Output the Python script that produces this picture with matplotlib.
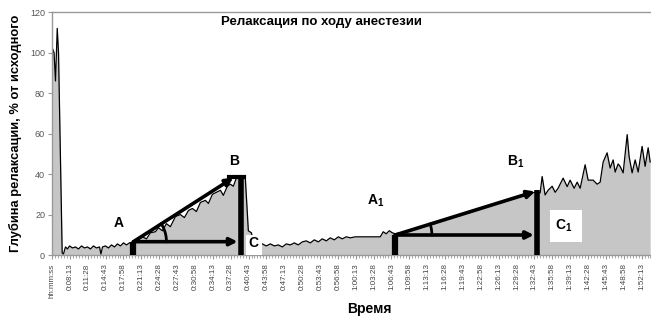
import numpy as np
import matplotlib
matplotlib.use('Agg')
import matplotlib.pyplot as plt
from matplotlib.patches import Rectangle

plt.rcParams['font.family'] = ['Liberation Sans', 'DejaVu Sans']
plt.rcParams['mathtext.default'] = 'regular'

# %%
# data: time in seconds, relaxation depth in % of baseline

t_sec = [303, 320, 336, 355, 369, 409, 423, 445, 467, 489, 522, 554, 587, 620, 652, 685,
         718, 750, 783, 816, 832, 849, 881, 914, 947, 980, 1012, 1045, 1078, 1111, 1143, 1187,
         1241, 1285, 1329, 1372, 1427, 1460, 1503, 1547, 1590, 1645, 1699, 1743, 1787, 1830,
         1874, 1918, 1972, 2005, 2049, 2092, 2136, 2168, 2212, 2245, 2277, 2310, 2354, 2408,
         2441, 2474, 2506, 2594, 2637, 2681, 2725, 2768, 2812, 2855, 2899, 2943, 2986, 3030,
         3074, 3117, 3161, 3205, 3248, 3292, 3335, 3379, 3423, 3466, 3510, 3554, 3608, 3663,
         3717, 3772, 3826, 3881, 3913, 3946, 3979, 4012, 4044, 4099, 4153, 4208, 4262, 4317,
         4371, 4426, 4480, 4535, 4589, 4644, 4699, 4753, 4808, 4862, 4917, 4971, 5026, 5080,
         5135, 5189, 5244, 5298, 5353, 5407, 5462, 5516, 5571, 5626, 5648, 5680, 5713, 5757,
         5790, 5822, 5877, 5921, 5953, 5997, 6030, 6063, 6117, 6150, 6205, 6248, 6281, 6314,
         6357, 6390, 6423, 6445, 6477, 6499, 6532, 6576, 6597, 6630, 6663, 6696, 6739, 6772,
         6805, 6827]
depth = [102, 100, 86, 112, 100, 1, 0.5, 4, 3, 4.5, 3.5, 4, 3, 4.5, 3.5, 4,
         3, 4.5, 3.5, 4, 0.5, 4, 4.5, 3.5, 5, 4, 5.5, 4.5, 6, 5, 6, 6.5,
         7.5, 9, 8, 11, 11.5, 13.5, 12, 15.5, 14, 19, 20, 18.5, 22, 23,
         21.5, 26, 27, 25.5, 30, 31, 32, 29.5, 34, 35, 34, 38, 38.5, 38,
         12, 11, 5, 5.5, 4.5, 5.5, 4.5, 5, 4, 5.5, 5, 6, 5, 6.5,
         7, 6, 7.5, 6.5, 8, 7, 8.5, 7.5, 9, 8, 9, 8.5, 9, 9,
         9, 9, 9, 9, 11.5, 10.5, 12, 11, 10.5, 11, 11.5, 12.5, 13, 13.5,
         14.5, 15, 15.5, 16.5, 17.5, 18, 19, 19.5, 20.5, 21, 22, 23, 23.5, 24.5,
         25, 26, 26.5, 27.5, 28, 29, 29.5, 30.5, 31, 30.7, 38.8, 29.7, 32, 34,
         31, 33, 38, 33.8, 37, 33, 36, 33, 44.6, 37, 37, 35, 36, 46,
         50.5, 43, 47, 41, 45, 43.8, 40.6, 59.5, 48.7, 40.6, 47, 41, 53.7, 43.8,
         53, 46]

# x tick labels: first category then every 3:15
tick_first = 298
tick_step = 195
n_ticks = 34

def hms(s):
    return '%d:%02d:%02d' % (s // 3600, (s % 3600) // 60, s % 60)

tick_pos = [tick_first + k*tick_step for k in range(n_ticks)]
tick_lab = ['hh:mm:ss'] + [hms(s) for s in tick_pos[1:]]

# annotation points (phase start A, peak B, end of level C)
A = (1187, 6.6)
B = (2277, 38.2)
B_bar = 2359
A1 = (4044, 9.9)
B1 = (5571, 31.4)
B1_bar = 5593

# %%
fig = plt.figure(figsize=(6.51, 3.2), dpi=100)
ax = fig.add_axes([0.0799, 0.203, 0.9201, 0.759])

t = np.array(t_sec)
d = np.array(depth)
ax.fill_between(t, d, 0, color='#c6c6c6', lw=0, zorder=1)
ax.plot(t, d, color='k', lw=0.9, zorder=2)

ax.set_xlim(298, 6836)
ax.set_ylim(0, 120)
ax.set_yticks(np.arange(0, 121, 20))
ax.set_xticks(tick_pos)
ax.set_xticklabels(tick_lab, rotation=90, fontsize=5.8, color='#444444')
ax.set_xticks(np.arange(tick_first, 6836, tick_step/6), minor=True)
ax.tick_params(axis='x', which='major', length=3, color='#999999', pad=3)
ax.tick_params(axis='x', which='minor', length=2, color='#999999')
ax.tick_params(axis='y', length=3, color='#999999', labelsize=6.5, labelcolor='#555555', pad=2)
for s in ['left', 'top', 'bottom']:
    ax.spines[s].set_color('#999999')
    ax.spines[s].set_linewidth(1.0)
ax.spines['right'].set_visible(False)

ax.set_ylabel('Глубина релаксации, % от исходного', fontsize=9.3, fontweight='bold', labelpad=6)
ax.set_xlabel('Время', fontsize=10, fontweight='bold', labelpad=14)
ax.xaxis.set_label_coords(0.53, -0.195)
ax.text(0.45, 0.958, 'Релаксация по ходу анестезии', transform=ax.transAxes,
        ha='center', va='center', fontsize=9.5, fontweight='bold')

# %%
# geometric annotation: triangles, bars, arcs
def triangle(p0, p1, xbar, top_flat=None, r_px=(360, 16.4)):
    ax.plot([p0[0], p0[0]], [0, p0[1]], color='k', lw=4.5, solid_capstyle='butt', zorder=4)
    ax.plot([xbar, xbar], [0, p1[1] + 0.5], color='k', lw=4.0, solid_capstyle='butt', zorder=4)
    ax.annotate('', xy=p1, xytext=p0,
                arrowprops=dict(arrowstyle='-|>', lw=2.6, color='k', mutation_scale=11,
                                shrinkA=0, shrinkB=0), zorder=5)
    ax.annotate('', xy=(xbar - 35, p0[1]), xytext=p0,
                arrowprops=dict(arrowstyle='-|>', lw=2.6, color='k', mutation_scale=11,
                                shrinkA=0, shrinkB=0), zorder=5)
    if top_flat is not None:
        ax.plot(top_flat, [p1[1] + 0.4]*2, color='k', lw=3, zorder=4)
    # angle arc
    ppx = 10.906
    ang = np.arctan(((p1[1] - p0[1])*2.017) / ((p1[0] - p0[0])/ppx))
    th = np.linspace(0, ang, 30)
    ax.plot(p0[0] + r_px[0]*np.cos(th), p0[1] + r_px[1]*np.sin(th), color='k', lw=2, zorder=4)

triangle(A, B, B_bar, top_flat=(2234, 2397), r_px=(360, 16.4))
triangle(A1, B1, B1_bar, r_px=(400, 18.3))

ax.add_patch(Rectangle((2414, 0), 180, 10, facecolor='white', edgecolor='none', zorder=3))
ax.add_patch(Rectangle((5735, 6.4), 349, 15.9, facecolor='white', edgecolor='none', zorder=3))

lab = dict(fontsize=10, fontweight='bold', ha='center', va='center', zorder=6)
ax.text(1023, 15.9, 'A', **lab)
ax.text(2288, 46.6, 'B', **lab)
ax.text(2500, 6.0, 'C', **lab)
ax.text(3830, 26.8, 'A$_1$', **lab)
ax.text(5360, 46.0, 'B$_1$', **lab)
ax.text(5880, 14.6, 'C$_1$', **lab)

fig.savefig('out.png', dpi=100)
